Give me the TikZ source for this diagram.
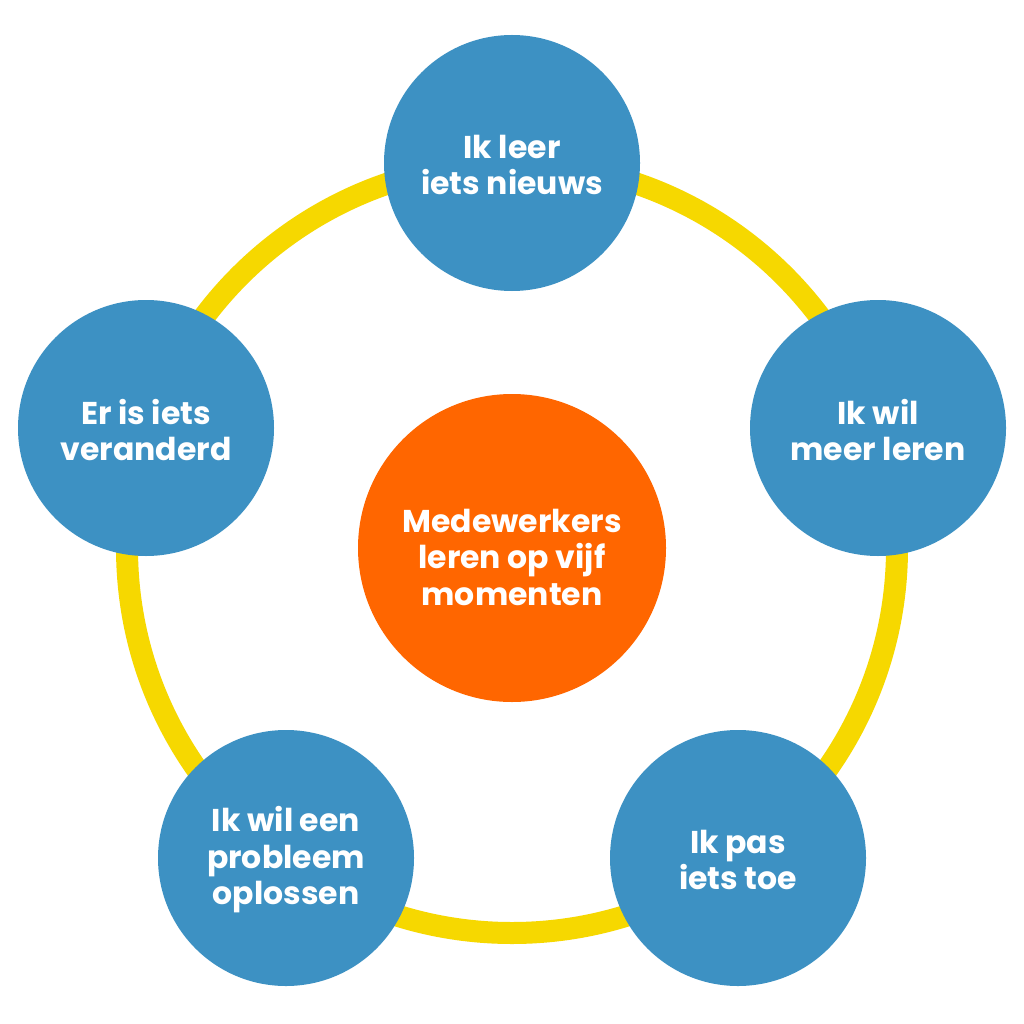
\documentclass[tikz,border=0pt]{standalone}
\usepackage{fontspec}
\setmainfont{Poppins}[BoldFont={* Bold}]
\definecolor{ringyellow}{HTML}{F6D800}
\definecolor{nodeblue}{HTML}{3D91C3}
\definecolor{centerorange}{HTML}{FF6600}
\tikzset{
  moment/.style={circle, fill=nodeblue, minimum size=256pt, inner sep=0pt},
  hub/.style={circle, fill=centerorange, minimum size=308pt, inner sep=0pt},
  label text/.style={text=white, align=center, inner sep=0pt,
    font=\fontsize{31.5}{36.5}\selectfont\bfseries},
  ring/.style={draw=ringyellow, line width=22pt}
}
\begin{document}
\begin{tikzpicture}[x=1pt,y=-1pt]
\useasboundingbox (0,0) rectangle (1024,1024);
\fill[white] (0,0) rectangle (1024,1024);
\coordinate (c) at (512,548);
\draw[ring] (c) circle[radius=385];
\node[hub] (hub) at (c) {};
\node[label text] (hubtext) at ([yshift=-9pt]hub.center) {Medewerkers\\leren op vijf\\momenten};
\node[moment] (m1) at (512,163) {};
\node[moment] (m2) at (878,428) {};
\node[moment] (m3) at (738,858) {};
\node[moment] (m4) at (286,858) {};
\node[moment] (m5) at (146,428) {};
\node[label text] (t1) at ([yshift=-2pt]m1.center) {Ik leer\\iets nieuws};
\node[label text] (t2) at ([yshift=-2pt]m2.center) {Ik wil\\meer leren};
\node[label text] (t3) at ([yshift=-2pt]m3.center) {Ik pas\\iets toe};
\node[label text] (t4) at ([yshift=-2pt]m4.center) {Ik wil een\\probleem\\oplossen};
\node[label text] (t5) at ([yshift=-2pt]m5.center) {Er is iets\\veranderd};
\end{tikzpicture}
\end{document}
